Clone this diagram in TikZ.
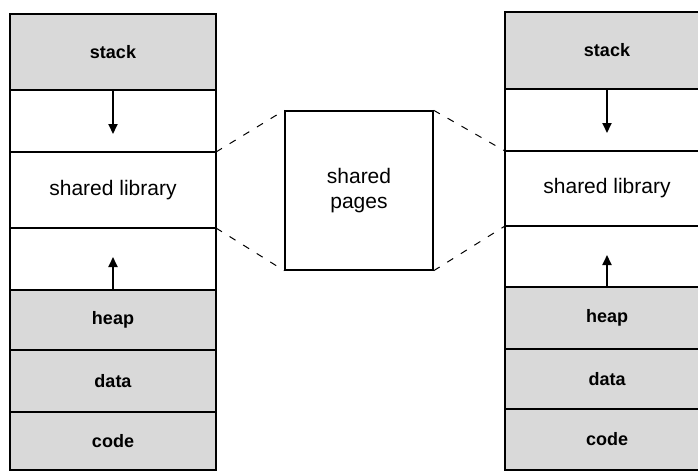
\documentclass[tikz,border=0pt]{standalone}
\usepackage{fontspec}
\setmainfont{Liberation Sans}
\usetikzlibrary{arrows.meta}
\begin{document}
\begin{tikzpicture}[x=1pt,y=-1pt,
  seg/.style={draw=black,line width=1.6pt,inner sep=0pt,outer sep=0pt,
    font=\fontsize{21}{24}\selectfont},
  shaded/.style={seg,fill=black!15,font=\fontsize{18}{20}\selectfont\bfseries},
  growarrow/.style={line width=1.8pt,-{Triangle[length=10pt,width=9pt]}},
  link/.style={line width=1pt,dash pattern=on 7pt off 9pt},
  pagebox/.style={draw=black,line width=1.4pt,inner sep=0pt,
    minimum width=148pt,minimum height=159pt,align=center,
    font=\fontsize{21}{25}\selectfont}]
\useasboundingbox (0,0) rectangle (698,472);
\clip (0,0) rectangle (698,472);
% left address space
\begin{scope}[every node/.append style={minimum width=206pt}]
\node[shaded,minimum height=76pt] (lstack) at (113,52) {stack};
\node[seg,minimum height=62pt] (lgapa) at (113,121) {};
\node[seg,minimum height=76pt] (llib) at (113,190) {shared library};
\node[seg,minimum height=62pt] (lgapb) at (113,259) {};
\node[shaded,minimum height=60pt] (lheap) at (113,320) {heap};
\node[shaded,minimum height=62pt] (ldata) at (113,381) {data};
\node[shaded,minimum height=58pt] (lcode) at (113,441) {code};
\end{scope}
% right address space
\begin{scope}[every node/.append style={minimum width=204pt}]
\node[shaded,minimum height=77pt] (rstack) at (607,50.5) {stack};
\node[seg,minimum height=62pt] (rgapa) at (607,120) {};
\node[seg,minimum height=75pt] (rlib) at (607,188.5) {shared library};
\node[seg,minimum height=61pt] (rgapb) at (607,256.5) {};
\node[shaded,minimum height=62pt] (rheap) at (607,318) {heap};
\node[shaded,minimum height=60pt] (rdata) at (607,379) {data};
\node[shaded,minimum height=61pt] (rcode) at (607,439.5) {code};
\end{scope}
% physical pages holding the library
\node[pagebox] (pages) at (359,190.5) {shared\\pages};
% stack and heap growth
\coordinate (lsend) at (113,134);
\coordinate (lhend) at (113,257);
\coordinate (rsend) at (607,133);
\coordinate (rhend) at (607,255);
\draw[growarrow] (lstack.south) -- (lsend);
\draw[growarrow] (lheap.north) -- (lhend);
\draw[growarrow] (rstack.south) -- (rsend);
\draw[growarrow] (rheap.north) -- (rhend);
% mapping of the library onto the shared pages
\draw[link] (llib.north east) -- (pages.north west);
\draw[link] (llib.south east) -- (pages.south west);
\draw[link] (pages.north east) -- (rlib.north west);
\draw[link] (pages.south east) -- (rlib.south west);
\end{tikzpicture}
\end{document}
